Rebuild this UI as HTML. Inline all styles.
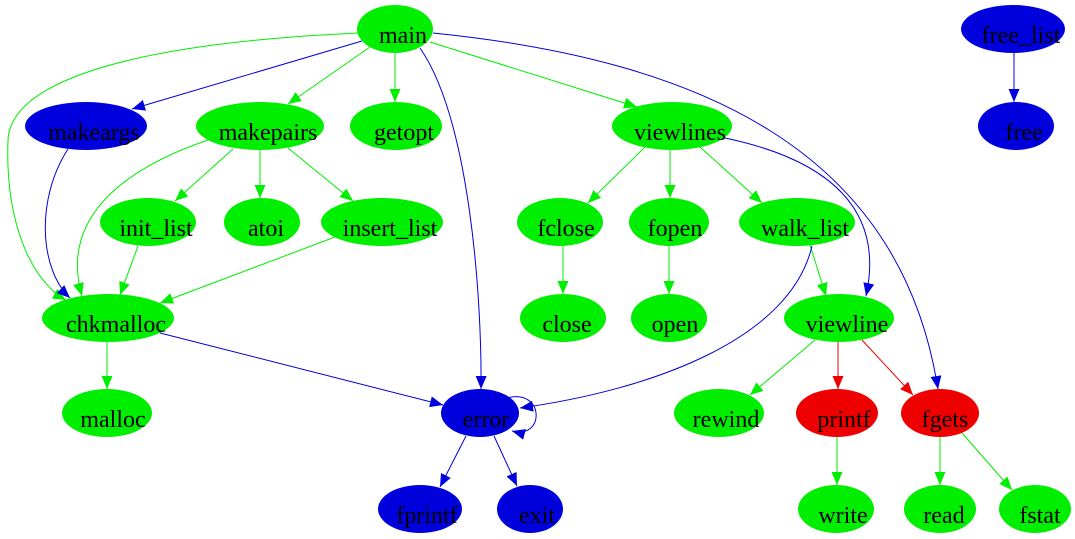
<!DOCTYPE html>
<html><head><meta charset="utf-8"><style>
html,body{margin:0;padding:0;background:#fff;width:1075px;height:539px;overflow:hidden}
text{font-family:"Liberation Serif",serif;font-size:24px;fill:#000;text-anchor:middle}
</style></head><body>
<svg width="1075" height="539" viewBox="0 0 1075 539">
<defs>
<marker id="g" markerUnits="userSpaceOnUse" markerWidth="14" markerHeight="12" refX="13" refY="5.5" orient="auto"><path d="M0,0 L13,5.5 L0,11z" fill="#00ee00"/></marker>
<marker id="b" markerUnits="userSpaceOnUse" markerWidth="14" markerHeight="12" refX="13" refY="5.5" orient="auto"><path d="M0,0 L13,5.5 L0,11z" fill="#0000dd"/></marker>
<marker id="r" markerUnits="userSpaceOnUse" markerWidth="14" markerHeight="12" refX="13" refY="5.5" orient="auto"><path d="M0,0 L13,5.5 L0,11z" fill="#ee0000"/></marker>
</defs>
<g fill="none" stroke-width="1">
<g stroke="#00ee00" marker-end="url(#g)">
<path d="M370,47 L288,104"/>
<path d="M395,53 L395,102"/>
<path d="M430,42 L637,107"/>
<path d="M358,33 C100,45 10,90 8,140 C5,220 30,280 66,300"/>
<path d="M208,140 C120,170 60,220 82,296"/>
<path d="M233,149 L175,201"/>
<path d="M260,150 L260,198"/>
<path d="M288,148 L353,201"/>
<path d="M138,246 L120,295"/>
<path d="M335,237 L160,303"/>
<path d="M107,342 L107,389"/>
<path d="M645,147 L588,203"/>
<path d="M670,150 L670,198"/>
<path d="M700,147 L762,203"/>
<path d="M810,245 L826,296"/>
<path d="M563,246 L563,294"/>
<path d="M669,246 L669,294"/>
<path d="M815,340 L750,395"/>
<path d="M837,437 L837,485"/>
<path d="M940,437 L940,485"/>
<path d="M962,433 L1012,490"/>
</g>
<g stroke="#0000dd" marker-end="url(#b)">
<path d="M362,41 L132,109"/>
<path d="M420,48 C470,120 482,300 481,389"/>
<path d="M433,33 C700,60 900,150 938,389"/>
<path d="M68,149 C35,200 40,270 70,298"/>
<path d="M160,333 L443,405"/>
<path d="M725,138 C830,160 885,210 866,296"/>
<path d="M812,246 C790,340 650,390 520,408"/>
<path d="M507,398 C545,388 545,440 512,431"/>
<path d="M466,436 L440,487"/>
<path d="M494,436 L517,486"/>
<path d="M1014,53 L1014,102"/>
</g>
<g stroke="#ee0000" marker-end="url(#r)">
<path d="M838,342 L838,389"/>
<path d="M862,340 L913,395"/>
</g>
</g>
<g>
<ellipse cx="395" cy="29" rx="38" ry="24" fill="#00ee00"/><text x="403" y="43">main</text>
<ellipse cx="1013" cy="29" rx="52" ry="24" fill="#0000dd"/><text x="1021" y="43">free_list</text>
<ellipse cx="86" cy="126" rx="61" ry="24" fill="#0000dd"/><text x="94" y="140">makeargs</text>
<ellipse cx="260" cy="126" rx="64" ry="24" fill="#00ee00"/><text x="268" y="140">makepairs</text>
<ellipse cx="396" cy="126" rx="46" ry="24" fill="#00ee00"/><text x="404" y="140">getopt</text>
<ellipse cx="672" cy="126" rx="60" ry="24" fill="#00ee00"/><text x="680" y="140">viewlines</text>
<ellipse cx="1016" cy="126" rx="38" ry="24" fill="#0000dd"/><text x="1024" y="140">free</text>
<ellipse cx="148" cy="222" rx="48" ry="24" fill="#00ee00"/><text x="156" y="236">init_list</text>
<ellipse cx="262" cy="222" rx="38" ry="24" fill="#00ee00"/><text x="266" y="236">atoi</text>
<ellipse cx="382" cy="222" rx="61" ry="24" fill="#00ee00"/><text x="390" y="236">insert_list</text>
<ellipse cx="560" cy="222" rx="43" ry="24" fill="#00ee00"/><text x="566" y="236">fclose</text>
<ellipse cx="669" cy="222" rx="40" ry="24" fill="#00ee00"/><text x="675" y="236">fopen</text>
<ellipse cx="797" cy="222" rx="58" ry="24" fill="#00ee00"/><text x="805" y="236">walk_list</text>
<ellipse cx="108" cy="318" rx="66" ry="24" fill="#00ee00"/><text x="116" y="332">chkmalloc</text>
<ellipse cx="563" cy="318" rx="43" ry="24" fill="#00ee00"/><text x="567" y="332">close</text>
<ellipse cx="669" cy="318" rx="38" ry="24" fill="#00ee00"/><text x="675" y="332">open</text>
<ellipse cx="839" cy="318" rx="55" ry="24" fill="#00ee00"/><text x="847" y="332">viewline</text>
<ellipse cx="107" cy="413" rx="45" ry="24" fill="#00ee00"/><text x="113" y="427">malloc</text>
<ellipse cx="480" cy="413" rx="39" ry="24" fill="#0000dd"/><text x="486" y="427">error</text>
<ellipse cx="719" cy="413" rx="45" ry="24" fill="#00ee00"/><text x="726" y="427">rewind</text>
<ellipse cx="837" cy="413" rx="41" ry="24" fill="#ee0000"/><text x="844" y="427">printf</text>
<ellipse cx="940" cy="413" rx="39" ry="24" fill="#ee0000"/><text x="945" y="427">fgets</text>
<ellipse cx="420" cy="509" rx="42" ry="24" fill="#0000dd"/><text x="427" y="523">fprintf</text>
<ellipse cx="530" cy="509" rx="33" ry="24" fill="#0000dd"/><text x="537" y="523">exit</text>
<ellipse cx="836" cy="509" rx="38" ry="24" fill="#00ee00"/><text x="843" y="523">write</text>
<ellipse cx="940" cy="509" rx="36" ry="24" fill="#00ee00"/><text x="944" y="523">read</text>
<ellipse cx="1035" cy="509" rx="36" ry="24" fill="#00ee00"/><text x="1040" y="523">fstat</text>
</g>
</svg>
</body></html>
